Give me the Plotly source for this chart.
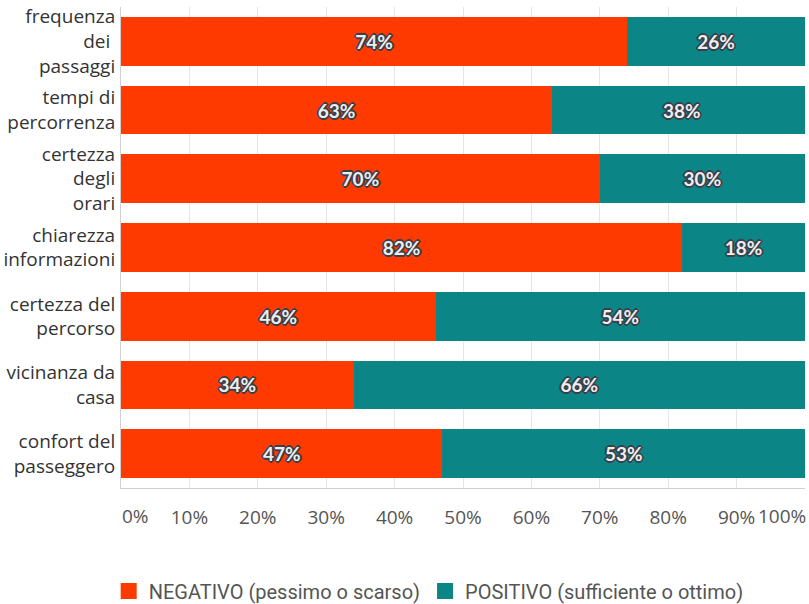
import plotly.graph_objects as go

categories = [
    "frequenza<br>dei <br>passaggi",
    "tempi di<br>percorrenza",
    "certezza<br>degli<br>orari",
    "chiarezza<br>informazioni",
    "certezza del<br>percorso",
    "vicinanza da<br>casa",
    "confort del<br>passeggero",
]
negativo = [74, 63, 70, 82, 46, 34, 47]
positivo = [26, 38, 30, 18, 54, 66, 53]
neg_labels = ["74%", "63%", "70%", "82%", "46%", "34%", "47%"]
pos_labels = ["26%", "38%", "30%", "18%", "54%", "66%", "53%"]
series_names = ["NEGATIVO (pessimo o scarso)", "POSITIVO (sufficiente o ottimo)"]
series_colors = ["#ff3a00", "#0b8585"]
tick_vals = [0, 10, 20, 30, 40, 50, 60, 70, 80, 90, 100]
tick_text = ["0%", "10%", "20%", "30%", "40%", "50%", "60%", "70%", "80%", "90%", "100%"]

oc = "#3a3f4a"
shadow = ", ".join(f"{dx}px {dy}px 0 {oc}" for dx, dy in
                   [(1, 1), (-1, -1), (1, -1), (-1, 1), (0, 1), (0, -1), (1, 0), (-1, 0),
                    (2, 0), (-2, 0), (0, 2), (0, -2)])
tfont = dict(family="Lato", size=19, color="#eeeeee", weight="bold", shadow=shadow)

fig = go.Figure()
for vals, labels, name, col in [(negativo, neg_labels, series_names[0], series_colors[0]),
                                (positivo, pos_labels, series_names[1], series_colors[1])]:
    fig.add_trace(go.Bar(
        y=categories, x=vals, orientation="h", name=name,
        marker=dict(color=col, line=dict(width=0)),
        text=labels, textposition="inside", insidetextanchor="middle",
        textfont=tfont, hoverinfo="skip", showlegend=False,
    ))
# legend-only entries with larger square swatches
for name, col in zip(series_names, series_colors):
    fig.add_trace(go.Scatter(
        x=[None], y=[None], mode="markers", name=name,
        marker=dict(symbol="square", size=16, color=col), hoverinfo="skip",
    ))

# end tick labels placed aligned with plot edges (as in the reference)
annotations = [
    dict(x=tick_vals[0], y=0, xref="x", yref="paper", text=tick_text[0], showarrow=False,
         xanchor="left", yanchor="top", yshift=-13, xshift=-1,
         font=dict(family="Open Sans", size=19, color="#555")),
    dict(x=tick_vals[-1], y=0, xref="x", yref="paper", text=tick_text[-1], showarrow=False,
         xanchor="right", yanchor="top", yshift=-13, xshift=3,
         font=dict(family="Open Sans", size=19, color="#555")),
]

fig.update_layout(
    barmode="stack",
    bargap=0.29,
    width=809, height=604,
    margin=dict(l=121, r=4, t=7, b=116, autoexpand=False),
    paper_bgcolor="white", plot_bgcolor="white",
    font=dict(family="Open Sans", color="#444"),
    legend=dict(orientation="h", x=-0.018, xanchor="left", y=-0.214, yanchor="middle",
                font=dict(family="Roboto", size=20, color="#555"),
                itemsizing="trace", traceorder="normal", itemwidth=30,
                tracegroupgap=0, bgcolor="rgba(0,0,0,0)"),
    annotations=annotations,
    uniformtext=dict(minsize=8, mode="show"),
)
fig.update_xaxes(
    range=[0, 100], tickvals=tick_vals[1:-1], ticktext=tick_text[1:-1],
    showgrid=True, gridcolor="#e6e6e6", gridwidth=1,
    showline=True, linecolor="#d0d0d0", linewidth=1,
    tickfont=dict(family="Open Sans", size=19, color="#555"),
    ticks="", ticklabelstandoff=12, zeroline=False,
)
fig.update_yaxes(
    autorange="reversed",
    showline=True, linecolor="#d0d0d0", linewidth=1,
    tickfont=dict(family="Open Sans", size=19, color="#333"),
    ticks="", ticklabelstandoff=1,
)

fig.write_html("out.html")
